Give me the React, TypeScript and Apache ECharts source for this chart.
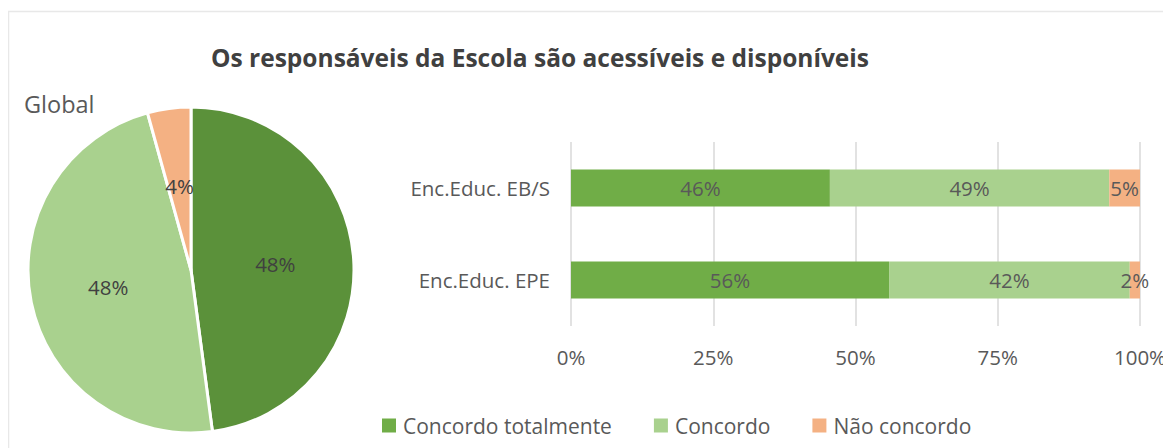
import React, { useEffect, useRef } from "react";
import * as echarts from "echarts";

const titleText = "Os responsáveis da Escola são acessíveis e disponíveis";
const seriesNames = ["Concordo totalmente", "Concordo", "Não concordo"];
const barColors = ["#70AD47", "#A9D18E", "#F4B183"];
const pieColors = ["#5B913A", "#A9D18E", "#F4B183"];
const categories = ["Enc.Educ. EB/S", "Enc.Educ. EPE"];
const concordoTotalmente = [45.5, 55.9];
const concordo = [49.1, 42.3];
const naoConcordo = [5.4, 1.8];
const globalValues = [47.9, 47.8, 4.3];
const xTicks = [0, 25, 50, 75, 100];

const FONT = "Open Sans";

export default function App() {
  const ref = useRef<HTMLDivElement>(null);
  useEffect(() => {
    if (!ref.current) return;
    const chart = echarts.init(ref.current, null, { renderer: "svg" });
    const barData = [concordoTotalmente, concordo, naoConcordo];
    chart.setOption({
      animation: false,
      textStyle: { fontFamily: FONT },
      title: {
        text: titleText,
        left: 527,
        top: 32,
        textAlign: "center",
        textStyle: { fontFamily: FONT, fontSize: 24.5, fontWeight: "bold", color: "#404040" },
      },
      graphic: [
        {
          type: "rect",
          shape: { x: 0.5, y: 3.5, width: 1300, height: 600 },
          style: { fill: "none", stroke: "#E8E8E8", lineWidth: 1.5 },
          silent: true,
        },
        {
          type: "text",
          left: 16,
          top: 84,
          style: { text: "Global", fontFamily: FONT, fontSize: 23.5, fill: "#595959" },
        },
      ],
      legend: {
        left: 374,
        top: 407,
        padding: 0,
        itemWidth: 14,
        itemHeight: 14,
        itemGap: 42,
        icon: "rect",
        textStyle: { fontFamily: FONT, fontSize: 21, color: "#595959", padding: [0, 0, 0, 2] },
        data: seriesNames.map((n, i) => ({ name: n, itemStyle: { color: barColors[i] } })),
      },
      grid: { left: 563, right: 31, top: 134, bottom: 122 },
      xAxis: {
        type: "value",
        min: 0,
        max: 100,
        interval: 25,
        axisLine: { show: false },
        axisTick: { show: false },
        splitLine: { lineStyle: { color: "#D9D9D9", width: 1.5 } },
        axisLabel: {
          formatter: (v: number) => (xTicks.includes(v) ? `${v}%` : ""),
          fontFamily: FONT,
          fontSize: 20.5,
          color: "#595959",
          margin: 20,
        },
      },
      yAxis: {
        type: "category",
        inverse: true,
        data: categories,
        axisLine: { show: false },
        axisTick: { show: false },
        axisLabel: { fontFamily: FONT, fontSize: 20.5, color: "#595959", margin: 21 },
      },
      series: [
        ...seriesNames.map((n, i) => ({
          type: "bar",
          name: n,
          stack: "total",
          barWidth: 37,
          data: barData[i],
          itemStyle: { color: barColors[i] },
          label: {
            show: true,
            position: "inside",
            formatter: (p: any) => `${Math.round(p.value)}%`,
            fontFamily: FONT,
            fontSize: 20.5,
            color: "#595959",
          },
        })),
        {
          type: "pie",
          name: "Global",
          center: [183, 262],
          radius: [0, 163],
          startAngle: 90,
          clockwise: true,
          legendHoverLink: false,
          data: globalValues.map((v, i) => ({
            name: seriesNames[i],
            value: v,
            itemStyle: { color: pieColors[i] },
          })),
          itemStyle: { borderColor: "#FFFFFF", borderWidth: 3 },
          label: {
            show: true,
            position: "inside",
            formatter: (p: any) => `${Math.round(p.value)}%`,
            fontFamily: FONT,
            fontSize: 20.5,
            color: "#404040",
          },
          labelLine: { show: false },
        },
      ],
    });
    return () => chart.dispose();
  }, []);
  return <div ref={ref} style={{ width: 1163, height: 440 }} />;
}
